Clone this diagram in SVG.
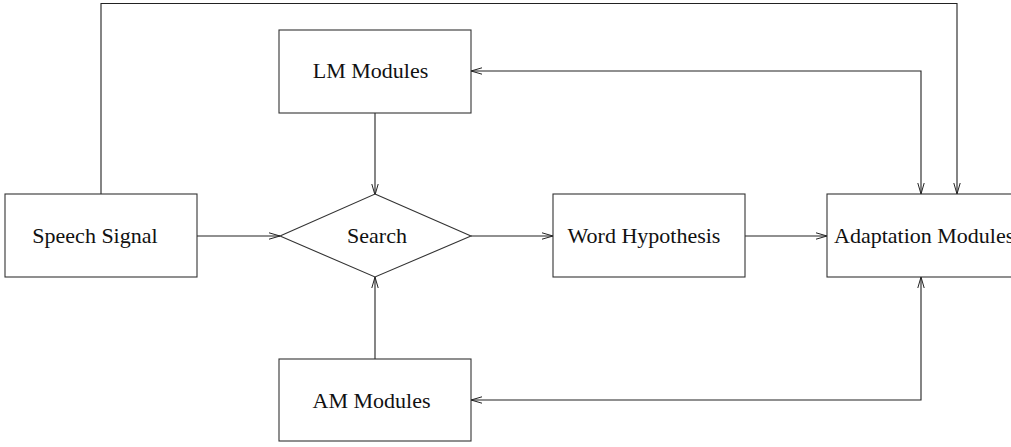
<svg xmlns="http://www.w3.org/2000/svg" width="1011" height="447" viewBox="0 0 1011 447">
<style>
.box{fill:#fff;stroke:#333;stroke-width:1.1}
.lbl{font-family:"Liberation Serif","Times New Roman",serif;font-size:22px;fill:#111;text-anchor:middle}
.c{fill:none;stroke:#222;stroke-width:1.1}
</style>
<defs>
<marker id="ah" markerWidth="12" markerHeight="8" refX="11" refY="4" orient="auto-start-reverse" markerUnits="userSpaceOnUse">
<path d="M0,0.8 L11,4 L0,7.2" fill="none" stroke="#222" stroke-width="1"/>
</marker>
</defs>
<g id="connectors">
<path class="c" d="M101,194 V3.5 H957 V194" marker-end="url(#ah)"/>
<path class="c" d="M471,71 H921 V194" marker-start="url(#ah)" marker-end="url(#ah)"/>
<path class="c" d="M375,113 V195" marker-end="url(#ah)"/>
<path class="c" d="M375,359 V277" marker-end="url(#ah)"/>
<path class="c" d="M197,236 H280" marker-end="url(#ah)"/>
<path class="c" d="M471,236 H553" marker-end="url(#ah)"/>
<path class="c" d="M745,236 H827" marker-end="url(#ah)"/>
<path class="c" d="M471,400 H921 V277" marker-start="url(#ah)" marker-end="url(#ah)"/>
</g>
<g id="lm"><rect class="box" x="279" y="30" width="192" height="83"/><text class="lbl" x="370.5" y="78">LM Modules</text></g>
<g id="speech"><rect class="box" x="5" y="194" width="192" height="83"/><text class="lbl" x="95" y="243">Speech Signal</text></g>
<g id="search"><polygon class="box" points="375,194 471,236 375,277 280,236"/><text class="lbl" x="377" y="243">Search</text></g>
<g id="word"><rect class="box" x="553" y="194" width="192" height="83"/><text class="lbl" x="644" y="243">Word Hypothesis</text></g>
<g id="adapt"><rect class="box" x="827" y="194" width="192" height="83"/><text class="lbl" x="834" y="243" style="text-anchor:start">Adaptation Modules</text></g>
<g id="am"><rect class="box" x="279" y="359" width="192" height="82"/><text class="lbl" x="371.5" y="408">AM Modules</text></g>
</svg>
